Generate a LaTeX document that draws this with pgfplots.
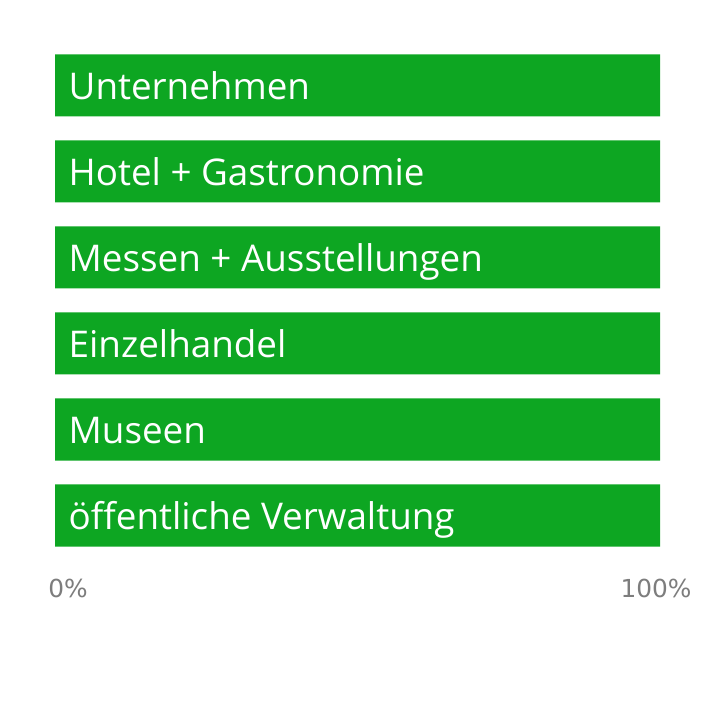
\documentclass[border=0pt]{standalone}
\usepackage{pgfplots}
\pgfplotsset{compat=1.18}
\usepackage{fontspec}
\setmainfont{Open Sans}
\newfontfamily\tickfont{DejaVu Sans}
\definecolor{barg}{RGB}{13,166,34}
\definecolor{tickg}{RGB}{125,125,125}
\begin{document}
\begin{tikzpicture}
\path[use as bounding box] (0,0) rectangle (360bp,360bp);
\begin{axis}[
  at={(27.5bp,80.75bp)}, anchor=south west,
  scale only axis, width=302.5bp, height=258bp,
  xmin=0, xmax=100, ymin=0.5, ymax=6.5,
  xbar, bar width=0.721, bar shift=0pt,
  axis line style={draw=none}, tick style={draw=none},
  ytick=\empty,
  xtick={2.15,99.34}, xticklabels={0\%,100\%},
  xticklabel style={font=\tickfont\fontsize{12.4bp}{14bp}\selectfont, text=tickg, anchor=center, yshift=-14.75bp},
  clip=false,
]
\addplot[fill=barg, draw=none] coordinates {(100,6) (100,5) (100,4) (100,3) (100,2) (100,1)};
\foreach \lab/\yy in {Unternehmen/6, Hotel + Gastronomie/5, Messen + Ausstellungen/4, Einzelhandel/3, Museen/2, öffentliche Verwaltung/1}{
  \edef\temp{\noexpand\node[anchor=base west, inner sep=0pt, text=white, font=\noexpand\fontsize{18.4bp}{21bp}\noexpand\selectfont] at (axis cs:2.2,\yy) [yshift=-6.9bp] {\lab};}
  \temp
}
\end{axis}
\end{tikzpicture}
\end{document}
